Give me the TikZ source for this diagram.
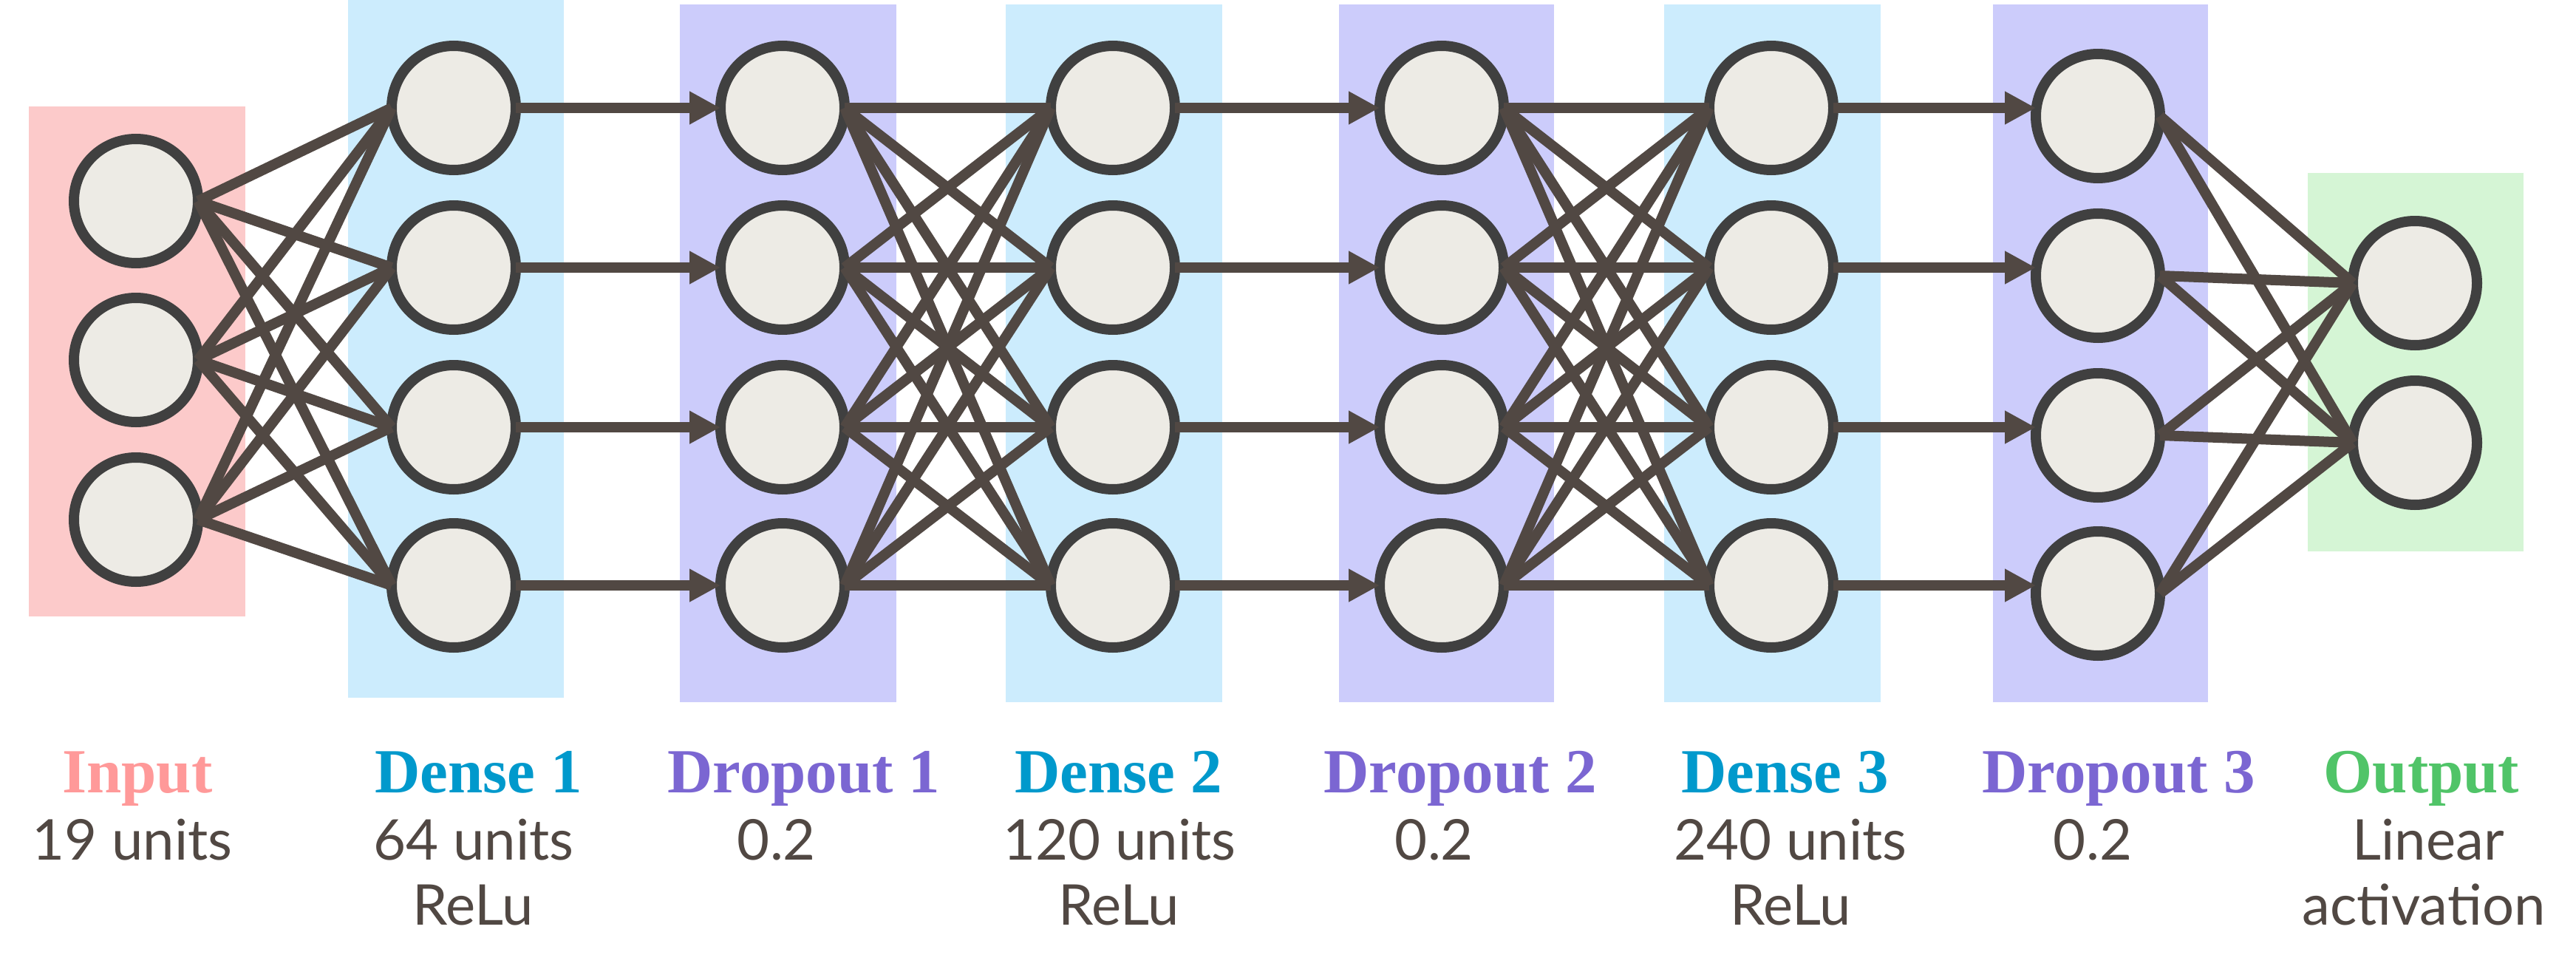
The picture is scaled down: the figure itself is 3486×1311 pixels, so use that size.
\documentclass[tikz,border=0pt]{standalone}
\usepackage{fontspec}
\setmainfont{Liberation Serif}
\newfontfamily\labelsans{Lato}
\usetikzlibrary{arrows.meta}
\definecolor{inbg}{HTML}{FCCACA}
\definecolor{densebg}{HTML}{CCECFD}
\definecolor{dropbg}{HTML}{CCCCFB}
\definecolor{outbg}{HTML}{D5F5D5}
\definecolor{circfill}{HTML}{EDEBE5}
\definecolor{circstroke}{HTML}{404040}
\definecolor{linkcol}{HTML}{514843}
\definecolor{txt}{HTML}{514843}
\definecolor{inhead}{HTML}{FF9999}
\definecolor{densehead}{HTML}{0099CC}
\definecolor{drophead}{HTML}{7B66D2}
\definecolor{outhead}{HTML}{50C468}
\begin{document}
\begin{tikzpicture}[x=1pt,y=-1pt,
  neuron/.style={circle, draw=circstroke, fill=circfill, line width=14pt, minimum size=168pt, inner sep=0pt, outer sep=0pt},
  link/.style={draw=linkcol, line width=14pt},
  fwd/.style={link, -{Triangle[length=42pt,width=42pt]}},
  head/.style={font=\bfseries\fontsize{85}{90}\selectfont, anchor=base, inner sep=0pt},
  info/.style={font=\labelsans\fontsize{76}{88}\selectfont, text=txt, anchor=base, inner sep=0pt},
]
\useasboundingbox (0,0) rectangle (3486,1311);
\fill[white] (0,0) rectangle (3486,1311);
% layer backgrounds
\fill[inbg] (39,144) rectangle (332,834);
\fill[densebg] (471,0) rectangle (763,944);
\fill[dropbg] (920,6) rectangle (1213,950);
\fill[densebg] (1361,6) rectangle (1654,950);
\fill[dropbg] (1812,6) rectangle (2103,950);
\fill[densebg] (2252,6) rectangle (2545,950);
\fill[dropbg] (2697,6) rectangle (2988,950);
\fill[outbg] (3123,234) rectangle (3415,746);
% neurons
\foreach \n/\y in {1/272,2/487,3/703} \node[neuron] (in\n) at (184,\y) {};
\foreach \n/\y in {1/146,2/362,3/578,4/792} {
  \node[neuron] (da\n) at (614,\y) {};
  \node[neuron] (pa\n) at (1059,\y) {};
  \node[neuron] (db\n) at (1506,\y) {};
  \node[neuron] (pb\n) at (1951,\y) {};
  \node[neuron] (dc\n) at (2397,\y) {};
}
\foreach \n/\y in {1/157,2/373,3/589,4/803} \node[neuron] (pc\n) at (2839,\y) {};
\foreach \n/\y in {1/383,2/599} \node[neuron] (out\n) at (3268,\y) {};
% connections
\foreach \i in {1,2,3} \foreach \j in {1,2,3,4} \draw[link] (in\i.east) -- (da\j.west);
\foreach \j in {1,2,3,4} \draw[fwd] (da\j.east) -- (pa\j.west);
\foreach \i in {1,2,3,4} \foreach \j in {1,2,3,4} \draw[link] (pa\i.east) -- (db\j.west);
\foreach \j in {1,2,3,4} \draw[fwd] (db\j.east) -- (pb\j.west);
\foreach \i in {1,2,3,4} \foreach \j in {1,2,3,4} \draw[link] (pb\i.east) -- (dc\j.west);
\foreach \j in {1,2,3,4} \draw[fwd] (dc\j.east) -- (dc\j.east -| pc\j.west);
\foreach \i in {1,2,3,4} \foreach \j in {1,2} \draw[link] (pc\i.east) -- (out\j.west);
% headings
\node[head, text=inhead] (hin) at (186,1072) {Input};
\node[head, text=densehead] (hda) at (648,1072) {Dense 1};
\node[head, text=drophead] (hpa) at (1088,1072) {Dropout 1};
\node[head, text=densehead] (hdb) at (1514,1072) {Dense 2};
\node[head, text=drophead] (hpb) at (1976,1072) {Dropout 2};
\node[head, text=densehead] (hdc) at (2416,1072) {Dense 3};
\node[head, text=drophead] (hpc) at (2867,1072) {Dropout 3};
\node[head, text=outhead] (hout) at (3277,1072) {Output};
% details
\node[info] (tin) at (179,1163) {19 units};
\node[info] (tda) at (641,1163) {64 units};
\node[info] (tda2) at (640,1251) {ReLu};
\node[info] (tpa) at (1051,1163) {0.2};
\node[info] (tdb) at (1515,1163) {120 units};
\node[info] (tdb2) at (1514,1251) {ReLu};
\node[info] (tpb) at (1941,1163) {0.2};
\node[info] (tdc) at (2423,1163) {240 units};
\node[info] (tdc2) at (2423,1251) {ReLu};
\node[info] (tpc) at (2832,1163) {0.2};
\node[info] (tout) at (3286,1163) {Linear};
\node[info] (tout2) at (3280,1251) {activation};
\end{tikzpicture}
\end{document}
